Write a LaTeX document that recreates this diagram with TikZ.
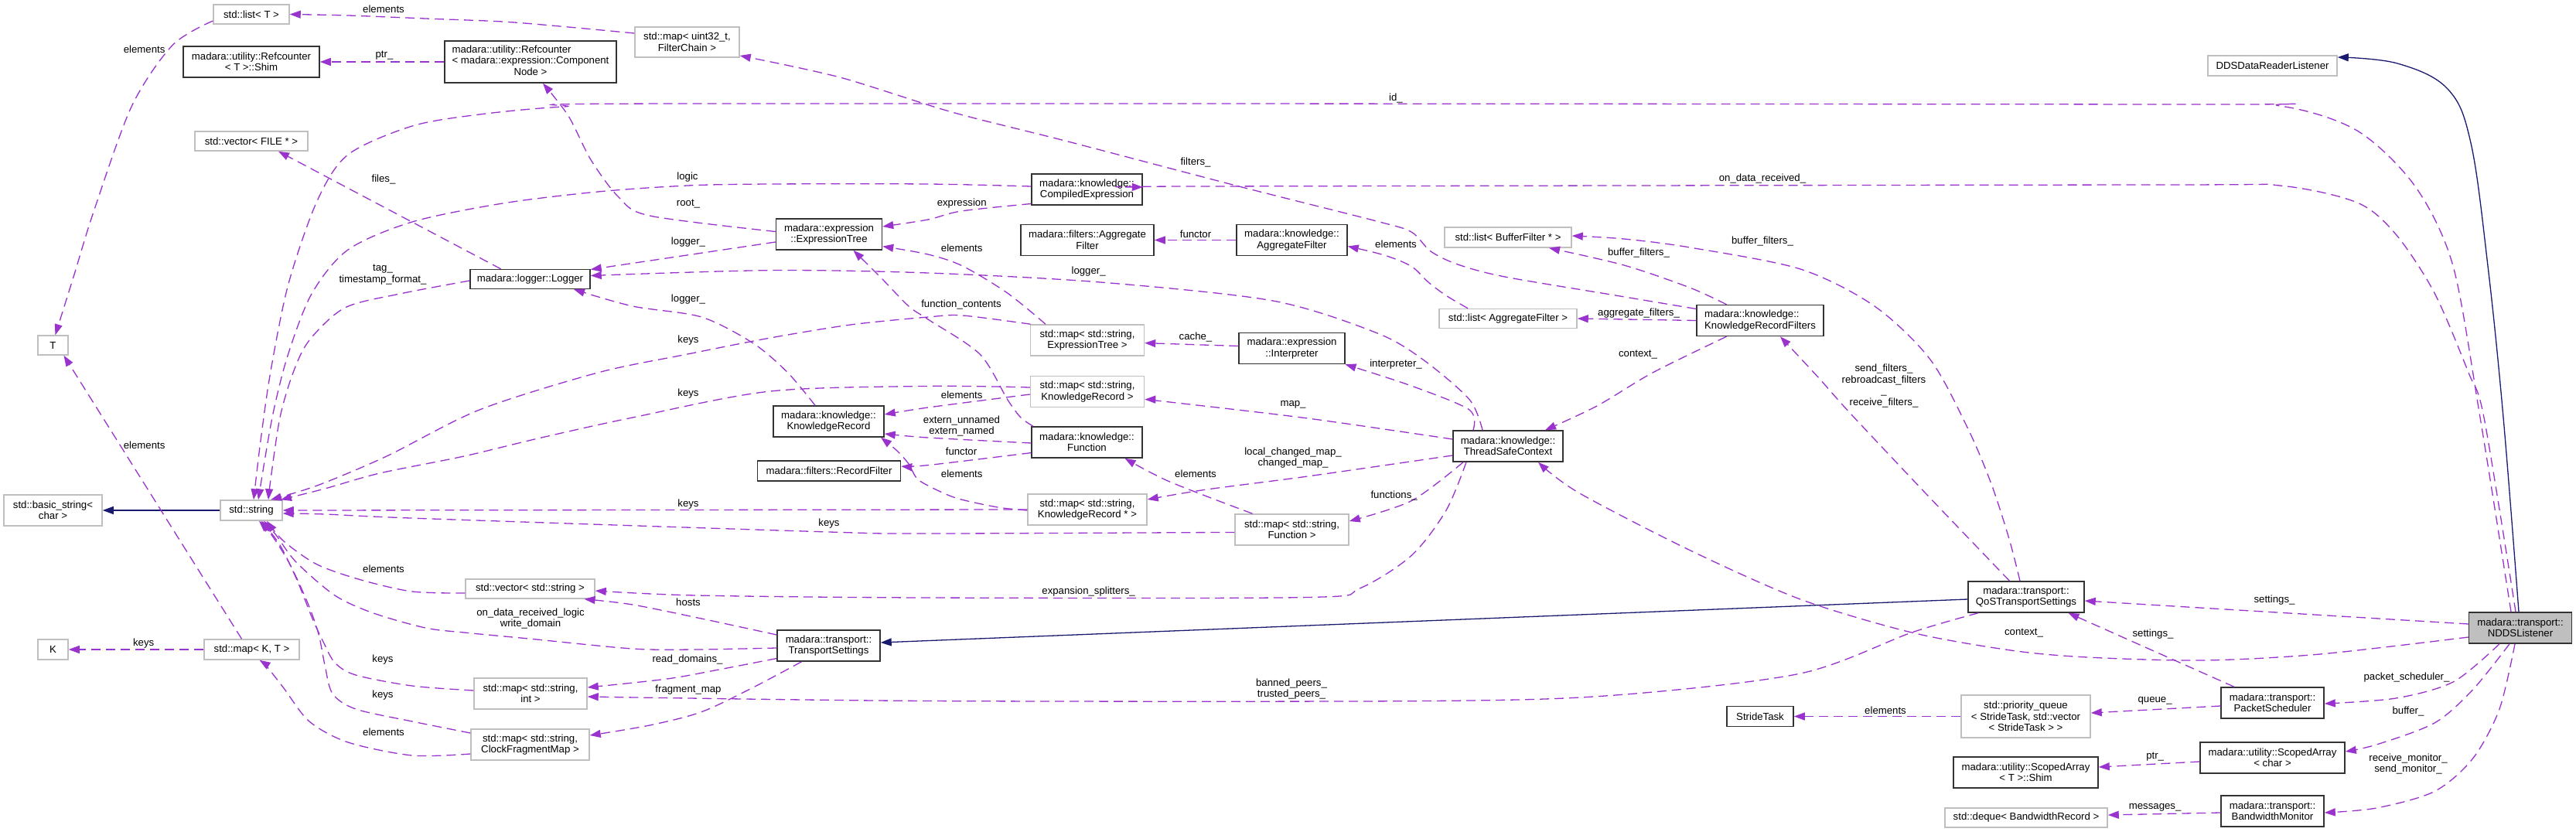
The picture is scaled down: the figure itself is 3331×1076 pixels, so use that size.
\documentclass[tikz,border=0pt]{standalone}
\usepackage{fontspec}
\setmainfont{Liberation Sans}
\usetikzlibrary{arrows.meta}
\definecolor{orchid}{HTML}{9A32CD}
\definecolor{midblue}{HTML}{191970}
\definecolor{greyseven}{HTML}{BFBFBF}
\begin{document}
\begin{tikzpicture}[x=1pt,y=-1pt,
  font=\fontsize{13.2}{14.5}\selectfont,
  box/.style={rectangle,inner sep=0pt,align=center,line width=1.5pt},
  cls/.style={box,draw=black!80},
  ext/.style={box,draw=greyseven},
  mainbox/.style={box,draw=black!80,fill=greyseven},
  lbl/.style={inner sep=0pt,align=center},
  mem/.style={draw=orchid,line width=1.3pt,dash pattern=on 12pt off 7pt,-{Triangle[length=14pt,width=10pt,fill=orchid]}},
  inh/.style={draw=midblue,line width=1.3pt,-{Triangle[length=14pt,width=10pt,fill=midblue]}},
  sm/.style={smooth,tension=0.5}]
\fill[white] (0,0) rectangle (3331,1076);
\useasboundingbox (0,0) rectangle (3331,1076);

% ---------- nodes ----------
\node[ext,minimum width=39pt,minimum height=25pt] (T) at (68.5,446.5) {T};
\node[ext,minimum width=39pt,minimum height=26pt] (K) at (68.5,840) {K};
\node[ext,minimum width=127pt,minimum height=40pt] (bs) at (68.5,660) {std::basic\_string<\\char >};
\node[ext,minimum width=80pt,minimum height=26pt] (str) at (325,660) {std::string};
\node[ext,minimum width=98pt,minimum height=25pt] (listT) at (325,18.5) {std::list< T >};
\node[cls,minimum width=176pt,minimum height=40pt] (shim) at (325,80) {madara::utility::Refcounter\\< T >::Shim};
\node[ext,minimum width=146pt,minimum height=25pt] (vfile) at (325,182.5) {std::vector< FILE * >};
\node[ext,minimum width=123pt,minimum height=26pt] (mapKT) at (325.5,840) {std::map< K, T >};
\node[cls,minimum width=222pt,minimum height=54pt] (refcn) at (686,80) {\begin{tabular}{@{}l@{}}madara::utility::Refcounter\\< madara::expression::Component\\\multicolumn{1}{@{}c@{}}{Node >}\end{tabular}};
\node[cls,minimum width=155pt,minimum height=25pt] (logger) at (685.5,361) {madara::logger::Logger};
\node[ext,minimum width=167pt,minimum height=25pt] (vs) at (685.5,761.5) {std::vector< std::string >};
\node[ext,minimum width=146pt,minimum height=40pt] (msi) at (686,897) {std::map< std::string,\\int >};
\node[ext,minimum width=153pt,minimum height=40pt] (cfm) at (685.5,963) {std::map< std::string,\\ClockFragmentMap >};
\node[ext,minimum width=135pt,minimum height=39pt] (mfc) at (888.5,54.5) {std::map< uint32\_t,\\FilterChain >};
\node[cls,minimum width=137pt,minimum height=40pt] (et) at (1072,303) {madara::expression\\::ExpressionTree};
\node[cls,minimum width=143pt,minimum height=40pt] (kr) at (1071.5,545) {madara::knowledge::\\KnowledgeRecord};
\node[cls,minimum width=185pt,minimum height=26pt] (rf) at (1072,609) {madara::filters::RecordFilter};
\node[cls,minimum width=133pt,minimum height=40pt] (ts) at (1071.5,835) {madara::transport::\\TransportSettings};
\node[cls,minimum width=143pt,minimum height=40pt] (ce) at (1405.5,245) {madara::knowledge::\\CompiledExpression};
\node[cls,minimum width=172pt,minimum height=40pt] (faf) at (1406,310.5) {madara::filters::Aggregate\\Filter};
\node[ext,minimum width=147pt,minimum height=40pt] (mset) at (1406,440) {std::map< std::string,\\ExpressionTree >};
\node[ext,minimum width=147pt,minimum height=40pt] (mskr) at (1406,506.6) {std::map< std::string,\\KnowledgeRecord >};
\node[cls,minimum width=143pt,minimum height=40pt] (fn) at (1405.5,572) {madara::knowledge::\\Function};
\node[ext,minimum width=154pt,minimum height=40pt] (mskrp) at (1406,659) {std::map< std::string,\\KnowledgeRecord * >};
\node[cls,minimum width=143pt,minimum height=40pt] (kaf) at (1670.5,310.5) {madara::knowledge::\\AggregateFilter};
\node[cls,minimum width=137pt,minimum height=40pt] (interp) at (1670.5,450.5) {madara::expression\\::Interpreter};
\node[ext,minimum width=147pt,minimum height=40pt] (msf) at (1670.5,685) {std::map< std::string,\\Function >};
\node[ext,minimum width=164pt,minimum height=26pt] (lbf) at (1950,307) {std::list< BufferFilter * >};
\node[ext,minimum width=178pt,minimum height=25pt] (laf) at (1950,412) {std::list< AggregateFilter >};
\node[cls,minimum width=142pt,minimum height=40pt] (tsc) at (1950,577) {madara::knowledge::\\ThreadSafeContext};
\node[cls,minimum width=164pt,minimum height=40pt,align=left] (krf) at (2276,414.5) {madara::knowledge::\\KnowledgeRecordFilters};
\node[cls,minimum width=86pt,minimum height=26pt] (st) at (2276,926.5) {StrideTask};
\node[cls,minimum width=150pt,minimum height=40pt] (qos) at (2620,772) {madara::transport::\\QoSTransportSettings};
\node[ext,minimum width=167pt,minimum height=55pt] (pq) at (2619.5,926.5) {std::priority\_queue\\< StrideTask, std::vector\\< StrideTask > >};
\node[cls,minimum width=187pt,minimum height=40pt] (sas) at (2619.5,999) {madara::utility::ScopedArray\\< T >::Shim};
\node[ext,minimum width=210pt,minimum height=25pt] (deq) at (2620,1057.5) {std::deque< BandwidthRecord >};
\node[ext,minimum width=167pt,minimum height=26pt] (dds) at (2938.5,85) {DDSDataReaderListener};
\node[cls,minimum width=133pt,minimum height=40pt] (ps) at (2938.5,909) {madara::transport::\\PacketScheduler};
\node[cls,minimum width=187pt,minimum height=40pt] (sac) at (2938.5,980) {madara::utility::ScopedArray\\< char >};
\node[cls,minimum width=133pt,minimum height=40pt] (bm) at (2938.5,1049) {madara::transport::\\BandwidthMonitor};
\node[mainbox,minimum width=133pt,minimum height=40pt] (ndds) at (3259,812) {madara::transport::\\NDDSListener};

% ---------- connectors ----------
\draw[inh] plot[smooth,tension=0.6] coordinates {([xshift=-2pt]ndds.north) (3237,540) (3217,344) (3195,185) (3165,115) (3100,82) ([yshift=11pt]dds.east)};
\draw[mem] plot[sm] coordinates {([xshift=-12pt]ndds.north) (3207,540) (3172,344) (3123,241) (3048,169) (2948,137) (2800,135) (885,134) (729,138) (620,148) (533,163) (450,200) (410,260) (373,367) (350,480) (337,570) ([xshift=3pt]str.north)};
\draw[mem] plot[sm] coordinates {([xshift=-6pt]ndds.north) (3212,540) (3192,482) (3148,379) (3098,303) (3048,262) (2948,240) (2800,239) (1550,241) ([yshift=3pt]ce.east)};
\draw[mem] plot[sm] coordinates {([yshift=4pt]ce.west) (1200,238) (996,238) (889,240) (773,248) (650,263) (533,287) (450,323) (403,380) (372,460) (352,540) ([xshift=9pt]str.north)};
\draw[mem] plot[sm] coordinates {([yshift=-2pt]logger.west) (517,380) (446,398) (400,440) (379,482) (362,540) (350,620) ([xshift=22pt]str.north)};
\draw[mem] ([xshift=-38pt]logger.north) -- ([xshift=35pt]vfile.south);
\draw[mem] plot[sm] coordinates {([yshift=11.5pt]mfc.west) (728.6,34.4) (650,28) (550,24) (450,20) (listT.east)};
\draw[mem] (refcn.west) -- (shim.east);
\draw[mem] plot[sm] coordinates {([yshift=-8.5pt]listT.west) (223,58.5) (170,138) (120.5,275.5) (96,355) ([xshift=3pt]T.north)};
\draw[inh] (str.west) -- (bs.east);
\draw[mem] (mapKT.west) -- (K.east);
\draw[mem] ([xshift=-13pt]mapKT.north) -- ([xshift=14pt]T.south);
\draw[mem] plot[sm] coordinates {([yshift=-12pt]cfm.west) (533,977) (450,960) (400,933) (367,890) (345,862) ([xshift=10pt]mapKT.south)};
\draw[mem] plot[sm] coordinates {([yshift=15pt]cfm.west) (533,933) (460,917) (430,897) (420,860) (412,820) (398,780) (375,730) (352,693) ([xshift=10pt]str.south)};
\draw[mem] plot[sm] coordinates {([yshift=4pt]msi.west) (533,887) (460,873) (433,857) (418,830) (404,800) (384,750) (362,705) ([xshift=13pt]str.south)};
\draw[mem] plot[sm] coordinates {([yshift=-3pt]ts.west) (900,840) (818,839) (684,826) (600,818) (550,812) (483,793) (433,770) (383,727) (357,692) ([xshift=16pt]str.south)};
\draw[mem] plot[sm] coordinates {([yshift=-5.5pt]vs.west) (533,765) (467,750) (410,730) (367,700) ([xshift=20pt]str.south)};
\draw[mem] plot[sm] coordinates {([yshift=14pt]ts.west) (907,800) (818,782) ([xshift=70pt]vs.south)};
\draw[mem] plot[sm] coordinates {([yshift=-16.5pt]ts.west) (929.5,866) (862.5,878) ([yshift=8pt]msi.east)};
\draw[mem] plot[sm] coordinates {([xshift=-35pt]ts.south) (974,889) (907,920.7) (840,938) ([yshift=12pt]cfm.east)};
\draw[mem] plot[sm] coordinates {([xshift=-62pt]qos.south) (2472,818) (2328,871) (2089,899) (1850,906.5) (1200,906.5) ([yshift=-4pt]msi.east)};
\draw[inh] ([yshift=-3pt]qos.west) -- ([yshift=4pt]ts.east);
\draw[mem] ([yshift=5pt]ndds.west) -- ([yshift=-5pt]qos.east);
\draw[mem] plot[sm] coordinates {([yshift=-12pt]ndds.west) (3000,846) (2849,854) (2699,850) (2600,841) (2472,818) (2328,775) (2185,711.5) (2041,637) ([xshift=39pt]tsc.south)};
\draw[mem] plot[sm] coordinates {([xshift=-27pt]ndds.south) (3172.6,881.7) (3098,903) ([yshift=-1pt]ps.east)};
\draw[mem] plot[sm] coordinates {([xshift=-14pt]ndds.south) (3197.5,892) (3148,935) (3073,963) ([yshift=8pt]sac.east)};
\draw[mem] plot[sm] coordinates {([xshift=-7pt]ndds.south) (3232,917) (3197.5,981) (3148,1023.5) (3073,1045) ([yshift=-2pt]bm.east)};
\draw[mem] ([xshift=-49.5pt]ps.north) -- ([xshift=54.5pt]qos.south);
\draw[mem] ([yshift=-4pt]ps.west) -- ([yshift=4.5pt]pq.east);
\draw[mem] ([yshift=-5pt]sac.west) -- ([yshift=7pt]sas.east);
\draw[mem] ([yshift=-2pt]bm.west) -- ([yshift=3.5pt]deq.east);
\draw[mem] (pq.west) -- (st.east);
\draw[mem] plot[sm] coordinates {([xshift=-21.5pt]qos.north) (2495.7,644) (2393,535) (2352,489) ([xshift=26pt]krf.south)};
\draw[mem] plot[sm] coordinates {([xshift=-8pt]qos.north) (2598,697) (2575,626) (2545,555) (2496,465) (2424,396) (2328,348) (2185,320) (2100,309) ([yshift=2pt]lbf.east)};
\draw[mem] plot[sm] coordinates {([xshift=-43.5pt]krf.north) (2185,372) (2100,343) ([xshift=53pt]lbf.south)};
\draw[mem] (krf.west) -- (laf.east);
\draw[mem] plot[sm] coordinates {([xshift=-43.5pt]krf.south) (2137,482) (2065,525) ([xshift=48pt]tsc.north)};
\draw[mem] plot[sm] coordinates {([xshift=-33pt]tsc.north) (1900,516.6) (1840,465) (1780,430.5) (1646,389) (1423,365) (1200,353) (996,349.6) ([yshift=4.5pt]logger.east)};
\draw[mem] ([yshift=-10pt]et.west) -- ([yshift=12.5pt]logger.east);
\draw[mem] plot[sm] coordinates {([xshift=-17.5pt]kr.north) (1018.7,482) (974,444) (907,410) (818,396) ([xshift=56.5pt]logger.south)};
\draw[mem] plot[sm] coordinates {([yshift=3.5pt]et.west) (840,279) (800,255) (764,206.6) (735,150) ([xshift=16pt]refcn.south)};
\draw[mem] plot[sm] coordinates {([yshift=-18.5pt]ce.west) (1243,273) (1200,284) ([yshift=10pt]et.east)};
\draw[mem] plot[sm] coordinates {([xshift=-54pt]mset.north) (1302.7,379) (1244.6,344) (1200,329) ([yshift=-15.6pt]et.east)};
\draw[mem] plot[sm] coordinates {([xshift=-69.5pt]fn.north) (1320,540) (1302.7,516.6) (1267,458) (1200,413) (1175,396) (1140,360) ([xshift=31.5pt]et.south)};
\draw[mem] ([yshift=3pt]interp.west) -- ([yshift=-3.6pt]mset.east);
\draw[mem] plot[sm] coordinates {([xshift=-45pt]tsc.north) (1900,530) (1825,499) ([xshift=69pt]interp.south)};
\draw[mem] plot[sm] coordinates {([yshift=9pt]tsc.west) (1691,541) (1512.5,520) ([yshift=-10pt]mskr.east)};
\draw[mem] plot[sm] coordinates {([yshift=-12pt]tsc.west) (1691,616) (1557,633.5) ([yshift=13pt]mskrp.east)};
\draw[mem] plot[sm] coordinates {([xshift=-58pt]tsc.south) (1825,647.7) ([yshift=11pt]msf.east)};
\draw[mem] plot[sm] coordinates {([xshift=-54pt]tsc.south) (1870,660) (1825,718.6) (1758,761) (1691,772.5) (1200,773) (900,770) ([yshift=-2.5pt]vs.east)};
\draw[mem] plot[sm] coordinates {([xshift=-73.5pt]mset.north) (1244.6,408) (1200,410) (1100,420) (996,437) (889,458) (773,482) (620,530) (500,590) (410,628) ([xshift=25pt]str.north)};
\draw[mem] plot[sm] coordinates {([yshift=5.6pt]mskr.west) (1200,499.4) (996,506) (818,540) (700,566) (600,590) (491,612) (420,632) ([xshift=38pt]str.north)};
\draw[mem] (mskrp.west) -- (str.east);
\draw[mem] plot[sm] coordinates {([yshift=-3.4pt]msf.west) (1200,690) (1072,688) (550,670.7) (420,665) ([yshift=-4pt]str.east)};
\draw[mem] plot[sm] coordinates {([yshift=-3.4pt]mskr.west) (1200,527) ([yshift=9pt]kr.east)};
\draw[mem] plot[sm] coordinates {([yshift=-1pt]fn.west) (1200,566) ([yshift=-16pt]kr.east)};
\draw[mem] plot[sm] coordinates {([yshift=-13.6pt]fn.west) (1200,601.6) ([yshift=6pt]rf.east)};
\draw[mem] plot[sm] coordinates {([yshift=-1pt]mskrp.west) (1290,656) (1236,644) (1200,628) (1185,618) (1175,600) (1160,583) ([xshift=67.5pt]kr.south)};
\draw[mem] plot[sm] coordinates {([xshift=-51pt]msf.north) (1512.5,623) ([xshift=49pt]fn.south)};
\draw[mem] (kaf.west) -- (faf.east);
\draw[mem] plot[sm] coordinates {([xshift=-52pt]laf.north) (1869.6,382) (1847,365) (1825,344.4) (1790,330) ([yshift=-8pt]kaf.east)};
\draw[mem] plot[sm] coordinates {([yshift=15pt]krf.west) (2089,382) (1946,358) (1885,342) (1850,325) (1825,300) (1780,286) (1602,241) (1379,182.5) (1231,145) (1086,100) ([yshift=-17.5pt]mfc.east)};

% ---------- labels ----------
\node[lbl] (l1) at (1805,127) {id\_};
\node[lbl] (l2) at (2279,231) {on\_data\_received\_};
\node[lbl] (l3) at (889,229) {logic};
\node[lbl] (l4) at (495,355) {tag\_\\timestamp\_format\_};
\node[lbl] (l5) at (496,232) {files\_};
\node[lbl] (l6) at (496,12) {elements};
\node[lbl] (l7) at (497,72) {ptr\_};
\node[lbl] (l8) at (186.6,63.7) {elements};
\node[lbl] (l9) at (185.7,832) {keys};
\node[lbl] (l10) at (186.6,575.7) {elements};
\node[lbl] (l11) at (496,947) {elements};
\node[lbl] (l12) at (495,899) {keys};
\node[lbl] (l13) at (495,853) {keys};
\node[lbl] (l14) at (686,800) {on\_data\_received\_logic\\write\_domain};
\node[lbl] (l15) at (496,736) {elements};
\node[lbl] (l16) at (890,779) {hosts};
\node[lbl] (l17) at (889,852.6) {read\_domains\_};
\node[lbl] (l18) at (890,892) {fragment\_map};
\node[lbl] (l19) at (1670,891) {banned\_peers\_\\trusted\_peers\_};
\node[lbl] (l20) at (2941,776) {settings\_};
\node[lbl] (l21) at (2617,819) {context\_};
\node[lbl] (l22) at (3112,875.6) {packet\_scheduler\_};
\node[lbl] (l23) at (3114,920) {buffer\_};
\node[lbl] (l24) at (3114,988) {receive\_monitor\_\\send\_monitor\_};
\node[lbl] (l25) at (2784,819.6) {settings\_};
\node[lbl] (l26) at (2786.6,906.5) {queue\_};
\node[lbl] (l27) at (2786.6,978.5) {ptr\_};
\node[lbl] (l28) at (2786.6,1044) {messages\_};
\node[lbl] (l29) at (2438,919) {elements};
\node[lbl] (l30) at (2436,499) {send\_filters\_\\rebroadcast\_filters\\\_\\receive\_filters\_};
\node[lbl] (l31) at (2279,311.7) {buffer\_filters\_};
\node[lbl] (l32) at (2119,327) {buffer\_filters\_};
\node[lbl] (l33) at (2119,404.7) {aggregate\_filters\_};
\node[lbl] (l34) at (2118,459) {context\_};
\node[lbl] (l35) at (1407.6,351) {logger\_};
\node[lbl] (l36) at (890,313) {logger\_};
\node[lbl] (l37) at (890,387.5) {logger\_};
\node[lbl] (l38) at (890,263.5) {root\_};
\node[lbl] (l39) at (1243.7,262.8) {expression};
\node[lbl] (l40) at (1243.7,321) {elements};
\node[lbl] (l41) at (1243,394) {function\_contents};
\node[lbl] (l42) at (1546,435.7) {cache\_};
\node[lbl] (l43) at (1805,470.8) {interpreter\_};
\node[lbl] (l44) at (1672,523.5) {map\_};
\node[lbl] (l45) at (1672,592) {local\_changed\_map\_\\changed\_map\_};
\node[lbl] (l46) at (1802.6,641) {functions\_};
\node[lbl] (l47) at (1407.6,764.7) {expansion\_splitters\_};
\node[lbl] (l48) at (890,440) {keys};
\node[lbl] (l49) at (890,508.7) {keys};
\node[lbl] (l50) at (890,652) {keys};
\node[lbl] (l51) at (1072,676.7) {keys};
\node[lbl] (l52) at (1243.7,511) {elements};
\node[lbl] (l53) at (1243.5,551) {extern\_unnamed\\extern\_named};
\node[lbl] (l54) at (1243,584) {functor};
\node[lbl] (l55) at (1243.7,613) {elements};
\node[lbl] (l56) at (1546,613) {elements};
\node[lbl] (l57) at (1546,302.4) {functor};
\node[lbl] (l58) at (1805,315.8) {elements};
\node[lbl] (l59) at (1546,210) {filters\_};
\end{tikzpicture}
\end{document}
